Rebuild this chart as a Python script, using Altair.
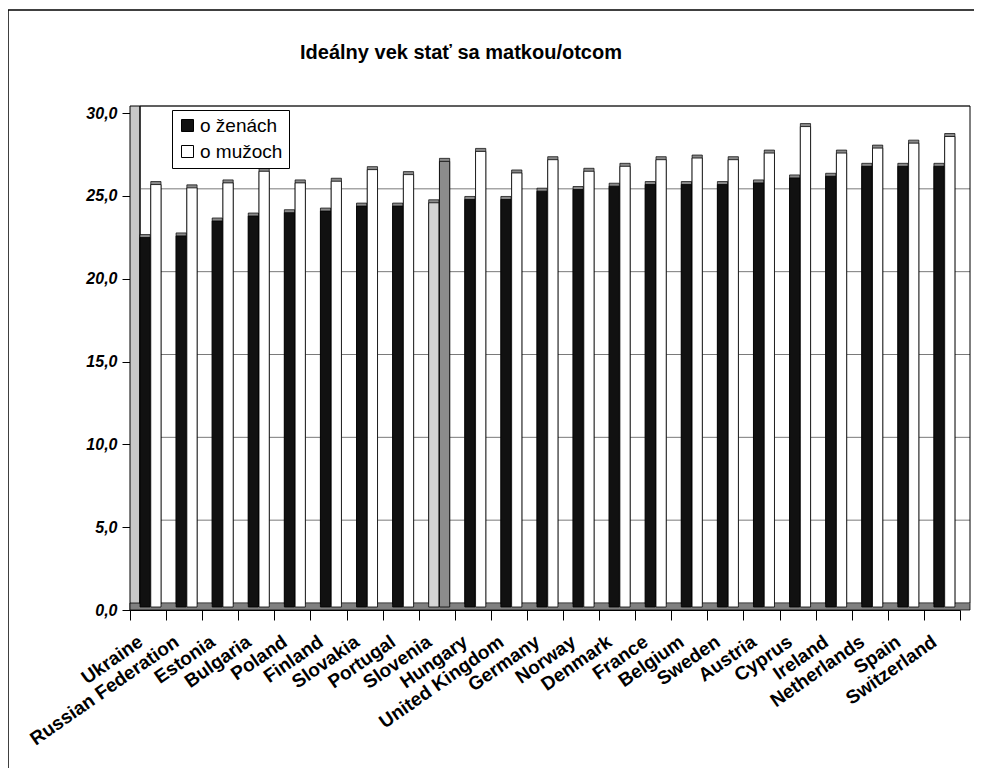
import altair as alt
import pandas as pd

countries = ["Ukraine", "Russian Federation", "Estonia", "Bulgaria", "Poland", "Finland",
             "Slovakia", "Portugal", "Slovenia", "Hungary", "United Kingdom", "Germany",
             "Norway", "Denmark", "France", "Belgium", "Sweden", "Austria", "Cyprus",
             "Ireland", "Netherlands", "Spain", "Switzerland"]
women = [22.3, 22.4, 23.3, 23.6, 23.8, 23.9, 24.2, 24.2, 24.4, 24.6, 24.6, 25.1,
         25.2, 25.4, 25.5, 25.5, 25.5, 25.6, 25.9, 26.0, 26.6, 26.6, 26.6]
men = [25.5, 25.3, 25.6, 26.3, 25.6, 25.7, 26.4, 26.1, 26.9, 27.5, 26.2, 27.0,
       26.3, 26.6, 27.0, 27.1, 27.0, 27.4, 29.0, 27.4, 27.7, 28.0, 28.4]
series = ["o ženách", "o mužoch"]
y_ticks = [0, 5, 10, 15, 20, 25, 30]
title_text = "Ideálny vek stať sa matkou/otcom"

rows = []
for c, w, m in zip(countries, women, men):
    rows.append({"country": c, "series": series[0], "value": w})
    rows.append({"country": c, "series": series[1], "value": m})
df = pd.DataFrame(rows)
grid_df = pd.DataFrame({"value": y_ticks})
one = pd.DataFrame({"d": [0]})

W, H = 830, 497
FONT = "Liberation Sans"

keys = series + ["Slovenia " + series[0], "Slovenia " + series[1]]
fills = ["#111111", "#ffffff", "#d4d4d4", "#8c8c8c"]

xenc = alt.X("country:N", sort=countries,
             scale=alt.Scale(paddingInner=0, paddingOuter=0),
             axis=alt.Axis(title=None, labelAngle=-35, labelAlign="right", labelBaseline="top",
                           labelFont=FONT, labelFontSize=19, labelFontWeight="bold",
                           labelColor="black", labelOffset=-13, labelPadding=12,
                           tickBand="extent", tickSize=10, tickColor="black",
                           domainColor="black", labelOverlap=False))
xoff = alt.XOffset("series:N", sort=series,
                   scale=alt.Scale(domain=series, range=[10, 31], paddingInner=0.05, paddingOuter=0))
yscale = alt.Scale(domain=[0, 30], nice=False)
yaxis = alt.Axis(title=None, values=y_ticks,
                 labelExpr="replace(format(datum.value, '.1f'), '.', ',')",
                 labelFont=FONT, labelFontSize=16, labelFontWeight="bold",
                 labelFontStyle="italic", labelColor="black", labelPadding=5,
                 tickSize=8, tickColor="black", domainColor="black", grid=False)
yenc = alt.Y("value:Q", scale=yscale, axis=yaxis)


def deco_rule(x, x2, y, y2, color="black", w=1):
    return alt.Chart(one).mark_rule(color=color, strokeWidth=w).encode(
        x=alt.value(x), x2=alt.value(x2), y=alt.value(y), y2=alt.value(y2))


left_wall = alt.Chart(one).mark_rect(fill="#c8c8c8", stroke="black", strokeWidth=1).encode(
    x=alt.value(0), x2=alt.value(10), y=alt.value(-7), y2=alt.value(H))
floor = alt.Chart(one).mark_rect(fill="#808080", stroke="black", strokeWidth=0.8).encode(
    x=alt.value(0), x2=alt.value(W + 10), y=alt.value(H - 7), y2=alt.value(H))

grid = alt.Chart(grid_df).mark_rule(color="#7a7a7a", strokeWidth=1, yOffset=-7).encode(
    y=yenc, x=alt.value(10), x2=alt.value(W + 10))

frame_top = deco_rule(10, W + 10, -7, -7)
frame_right = deco_rule(W + 10, W + 10, -7, H - 7)
frame_left = deco_rule(10, 10, -7, H - 7)

border_top = deco_rule(-122, W + 20, -103, -103, w=1.5)
border_left = deco_rule(-122, -122, -103, H + 160, w=1.5)

title = alt.Chart(one).mark_text(font=FONT, fontSize=20, fontWeight="bold", color="black",
                                 align="center", baseline="middle").encode(
    x=alt.value(331), y=alt.value(-60), text=alt.value(title_text))

bars_base = alt.Chart(df).transform_calculate(
    key="datum.country === 'Slovenia' ? 'Slovenia ' + datum.series : datum.series")

shadow = bars_base.mark_bar(fill="#8a8a8a", stroke="black", strokeWidth=0.7,
                            xOffset=3, yOffset=-6, y2Offset=-6).encode(
    x=xenc, xOffset=xoff, y=yenc)

bars = bars_base.mark_bar(stroke="black", strokeWidth=0.8, yOffset=-3, y2Offset=-3).encode(
    x=xenc, xOffset=xoff, y=yenc,
    fill=alt.Fill("key:N", scale=alt.Scale(domain=keys, range=fills),
                  legend=alt.Legend(title=None, orient="none", legendX=42, legendY=-3,
                                    values=series, symbolType="square", symbolSize=144,
                                    symbolStrokeColor="black", symbolStrokeWidth=1,
                                    labelFont=FONT, labelFontSize=19, labelColor="black",
                                    labelOffset=3, strokeColor="black", fillColor="white",
                                    padding=6, rowPadding=6)))

chart = alt.layer(
    left_wall, floor, grid, frame_top, frame_right, frame_left,
    shadow, bars, border_top, border_left, title
).properties(
    width=W, height=H,
    autosize=alt.AutoSizeParams(type="none"),
    padding={"left": 122, "top": 105, "right": 14, "bottom": 158},
).configure_view(stroke=None)

chart.save("out.html", embed_options={"renderer": "svg", "actions": False})
